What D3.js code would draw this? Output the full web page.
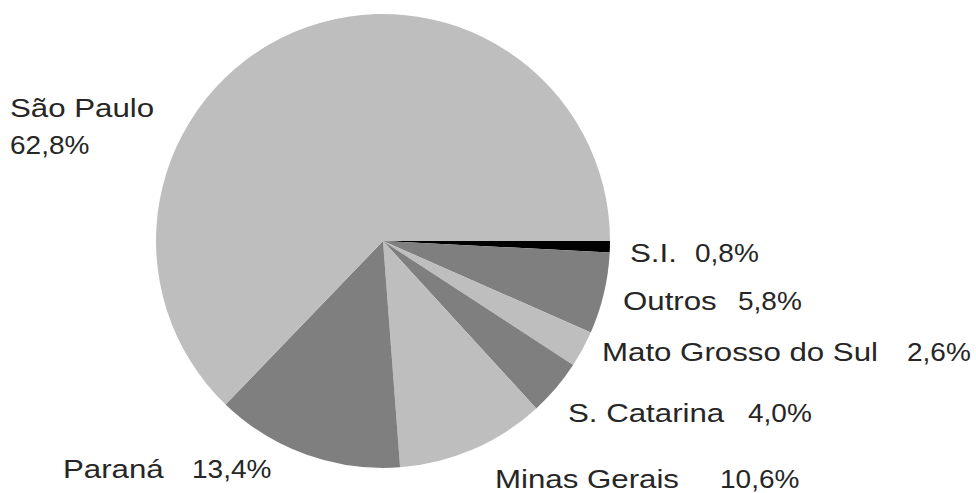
<!DOCTYPE html>
<html>
<head>
<meta charset="utf-8">
<script src="https://cdn.jsdelivr.net/npm/d3@7"></script>
<style>
  body { margin: 0; background: #fff; }
  text { font-family: "Liberation Sans", Arial, sans-serif; }
</style>
</head>
<body>
<script>
const width = 976, height = 493;

// slices, clockwise starting at 3 o'clock
const states = ["S.I.", "Outros", "Mato Grosso do Sul", "S. Catarina", "Minas Gerais", "Paraná", "São Paulo"];
const shares = [0.8, 5.8, 2.6, 4.0, 10.6, 13.4, 62.8];
const valueLabels = ["0,8%", "5,8%", "2,6%", "4,0%", "10,6%", "13,4%", "62,8%"];
const fills = ["#000000", "#7f7f7f", "#bebebe", "#7f7f7f", "#bebebe", "#7f7f7f", "#bebebe"];

// hand-placed label spots (name x, value x, baseline y) like the original
const labelSpots = [
    { nx: 630, vx: 695, y: 262 },
    { nx: 623, vx: 738, y: 310 },
    { nx: 602, vx: 907, y: 361 },
    { nx: 568, vx: 748, y: 422 },
    { nx: 495, vx: 720, y: 488 },
    { nx: 63, vx: 192, y: 478 },
    { nx: 10, vx: 10, y: 117, vy: 154 }   // two lines
];

const svg = d3.select("body")
    .append("svg")
    .attr("width", width)
    .attr("height", height);

const cx = 383, cy = 241, radius = 227;

const pie = d3.pie()
    .sort(null)
    .value(d => d)
    .startAngle(Math.PI / 2)
    .endAngle(Math.PI / 2 + 2 * Math.PI);

const arc = d3.arc()
    .innerRadius(0)
    .outerRadius(radius);

svg.append("g")
    .attr("transform", `translate(${cx},${cy})`)
    .selectAll("path")
    .data(pie(shares))
    .enter()
    .append("path")
    .attr("d", arc)
    .attr("fill", (d, i) => fills[i]);

// labels are stretched horizontally in the source (names more than numbers)
const nameScale = 1.25, valueScale = 1.12;
const labels = svg.append("g")
    .attr("font-size", 25)
    .attr("fill", "#262626");

labelSpots.forEach((p, i) => {
    labels.append("text")
        .attr("transform", `translate(${p.nx},${p.y}) scale(${nameScale},1)`)
        .text(states[i]);
    labels.append("text")
        .attr("transform", `translate(${p.vx},${p.vy || p.y}) scale(${valueScale},1)`)
        .text(valueLabels[i]);
});
</script>
</body>
</html>
